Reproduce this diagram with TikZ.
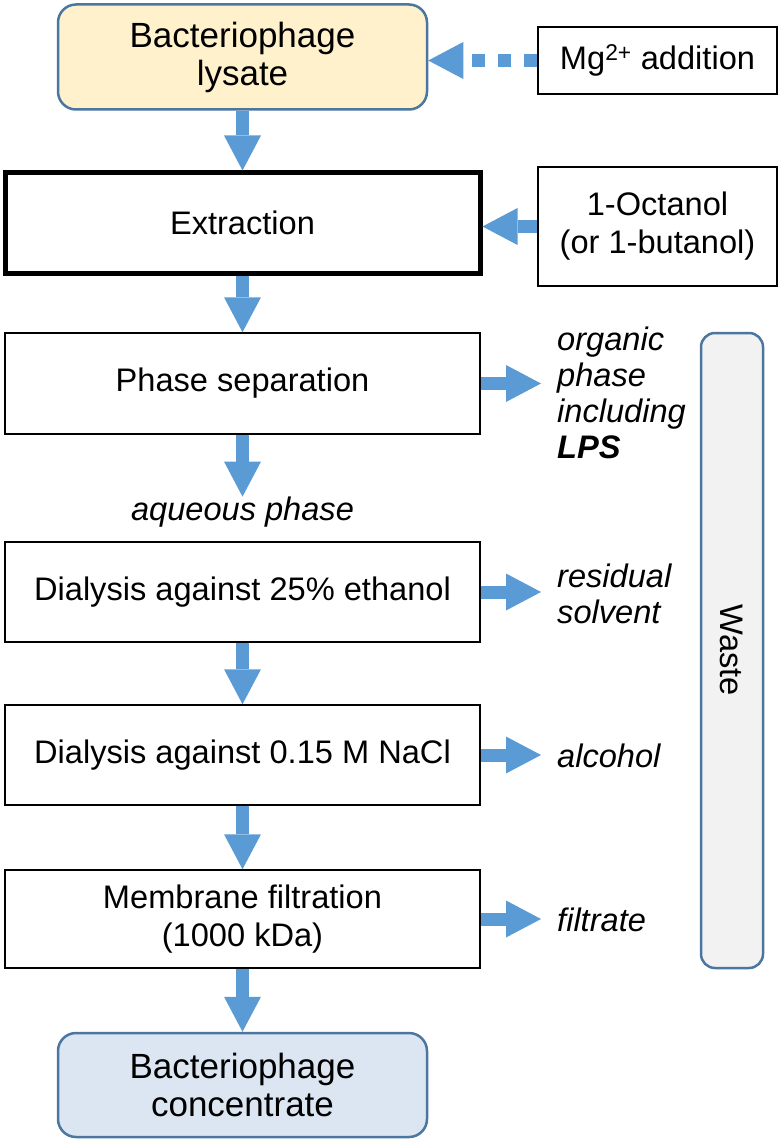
\documentclass[tikz,border=0pt]{standalone}
\usepackage{fontspec}
\setmainfont{Liberation Sans}
\usetikzlibrary{arrows.meta}
\definecolor{arrblue}{HTML}{5B9BD5}
\definecolor{edgeblue}{HTML}{4A76A0}
\definecolor{lysfill}{HTML}{FFF1CC}
\definecolor{concfill}{HTML}{DCE6F2}
\definecolor{wastefill}{HTML}{F2F2F2}
\tikzset{
  txt/.style={font={\fontsize{32.6}{38}\selectfont}, align=center},
  bigtxt/.style={font={\fontsize{35}{38}\selectfont}, align=center},
  plainbox/.style={txt, draw=black, line width=1.5pt, fill=white, inner sep=0pt},
  roundbox/.style={bigtxt, draw=edgeblue, line width=2.5pt, rounded corners=18pt, inner sep=0pt},
  lbl/.style={font={\fontsize{32.6}{36}\selectfont\itshape}, align=left, inner sep=0pt, anchor=west},
  arr/.style={draw=arrblue, line width=13pt, -{Triangle[length=35pt,width=37pt,line width=0pt]}},
  darr/.style={arr, dash pattern=on 13pt off 13pt},
}
\begin{document}
\begin{tikzpicture}[x=1pt,y=-1pt]
\path[use as bounding box] (0,0) rectangle (781,1142);
% main column
\node[roundbox, fill=lysfill, minimum width=369pt, minimum height=105pt] (lys) at (242.5,57) {Bacteriophage\\lysate};
\node[plainbox, line width=5pt, minimum width=475pt, minimum height=100pt] (ext) at (242.5,223) {Extraction};
\node[plainbox, minimum width=475pt, minimum height=101pt] (pha) at (242.5,383.5) {Phase separation};
\node[txt, font={\fontsize{32.6}{38}\selectfont\itshape}, inner sep=0pt] (aq) at (242.5,512) {aqueous phase};
\node[plainbox, minimum width=475pt, minimum height=100pt] (dia1) at (242.5,592) {Dialysis against 25\% ethanol};
\node[plainbox, minimum width=475pt, minimum height=100pt] (dia2) at (242.5,755) {Dialysis against 0.15 M NaCl};
\node[plainbox, minimum width=475pt, minimum height=98pt] (mem) at (242.5,919) {Membrane filtration\\(1000 kDa)};
\node[roundbox, fill=concfill, minimum width=369pt, minimum height=104pt] (con) at (242.5,1085) {Bacteriophage\\concentrate};
% inputs
\node[plainbox, minimum width=239pt, minimum height=67pt] (mg) at (657.5,60.5) {Mg\textsuperscript{2+} addition};
\node[plainbox, minimum width=239pt, minimum height=119pt] (oct) at (657.5,226.5) {1-Octanol\\(or 1-butanol)};
% waste
\node[draw=edgeblue, line width=2.5pt, fill=wastefill, rounded corners=14pt, rotate=-90,
      minimum width=635pt, minimum height=62pt, inner sep=0pt, txt] (waste) at (732,650.5) {Waste};
% outputs
\node[lbl] (org) at (557,393) {organic\\phase\\including\\\textbf{LPS}};
\node[lbl] (res) at (557,594) {residual\\solvent};
\node[lbl] (alc) at (557,756) {alcohol};
\node[lbl] (fil) at (557,920) {filtrate};
\coordinate (o1) at (541,383.5);
\coordinate (o2) at (541,592);
\coordinate (o3) at (541,755);
\coordinate (o4) at (541,919);
% connectors
\draw[darr] (mg.west) -- (mg.west -| lys.east);
\draw[arr] (oct.west) -- (oct.west -| ext.east);
\draw[arr] (lys.south) -- (ext.north);
\draw[arr] (ext.south) -- (pha.north);
\draw[arr] (pha.south) -- (aq.north);
\draw[arr] (dia1.south) -- (dia2.north);
\draw[arr] (dia2.south) -- (mem.north);
\draw[arr] (mem.south) -- (con.north);
\draw[arr] (pha.east) -- (o1);
\draw[arr] (dia1.east) -- (o2);
\draw[arr] (dia2.east) -- (o3);
\draw[arr] (mem.east) -- (o4);
\end{tikzpicture}
\end{document}
